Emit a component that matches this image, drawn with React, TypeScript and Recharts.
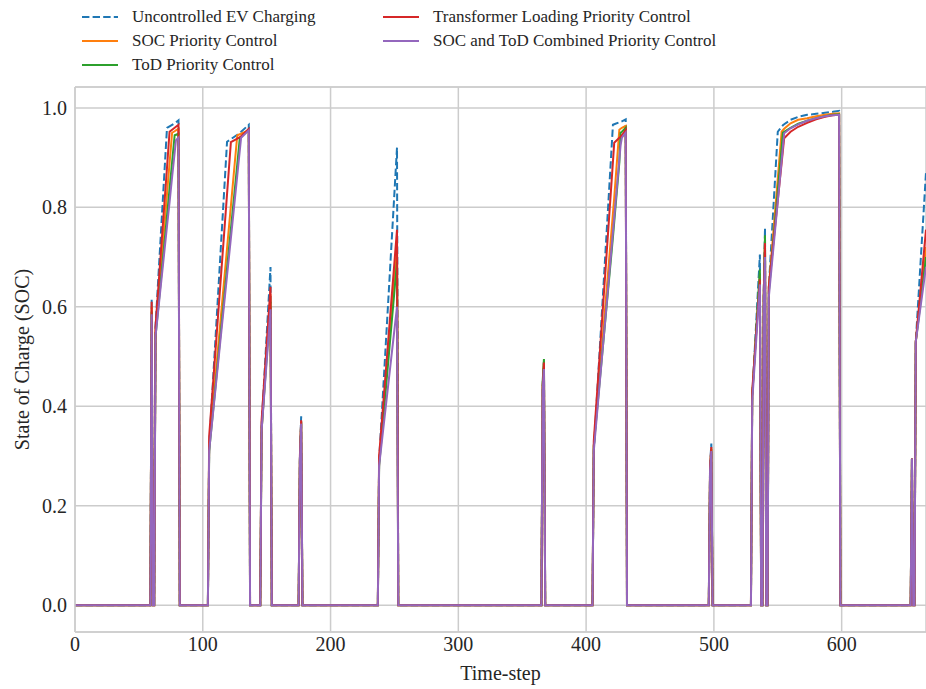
import React from "react";
import { LineChart, Line, XAxis, YAxis, CartesianGrid, ReferenceLine, Label } from "recharts";

const timeSteps = [
  0, 59, 60, 61, 62, 63, 72, 74, 76, 78, 79, 81, 82,
  104, 105, 119, 122, 127, 129, 130, 136, 137,
  145, 146, 153, 154,
  175, 176, 177, 178,
  237, 238, 252, 253,
  365, 366, 367, 368,
  405, 406, 421, 422, 426, 427, 428, 431, 432,
  496, 497, 498, 499,
  529, 530, 536, 537, 538, 539, 540, 541,
  542, 543, 550, 553, 554, 555, 560, 566, 573, 580, 587, 593, 598, 599,
  654, 655, 656, 657, 658, 666,
];

const uncontrolled = [
  0, 0, 0.615, 0, 0, 0.56, 0.96, 0.963, 0.966, 0.969, 0.971, 0.975, 0,
  0, 0.32, 0.932, 0.937, 0.946, 0.95, 0.952, 0.966, 0,
  0, 0.36, 0.68, 0,
  0, 0.3, 0.38, 0,
  0, 0.29, 0.92, 0,
  0, 0.44, 0.49, 0,
  0, 0.31, 0.966, 0.967, 0.971, 0.972, 0.973, 0.977, 0,
  0, 0.28, 0.325, 0,
  0, 0.42, 0.705, 0, 0, 0.63, 0.758, 0,
  0, 0.64, 0.952, 0.962, 0.965, 0.967, 0.976, 0.982, 0.986, 0.988, 0.99, 0.992, 0.994, 0,
  0, 0.297, 0, 0, 0.53, 0.87,
];

const socPriority = [
  0, 0, 0.6, 0, 0, 0.55, 0.827, 0.889, 0.95, 0.953, 0.955, 0.958, 0,
  0, 0.32, 0.718, 0.803, 0.945, 0.947, 0.948, 0.955, 0,
  0, 0.35, 0.625, 0,
  0, 0.29, 0.37, 0,
  0, 0.29, 0.72, 0,
  0, 0.44, 0.49, 0,
  0, 0.32, 0.788, 0.819, 0.956, 0.958, 0.96, 0.964, 0,
  0, 0.27, 0.315, 0,
  0, 0.42, 0.665, 0, 0, 0.62, 0.735, 0,
  0, 0.64, 0.858, 0.952, 0.955, 0.958, 0.969, 0.976, 0.979, 0.983, 0.986, 0.988, 0.989, 0,
  0, 0.295, 0, 0, 0.53, 0.72,
];

const todPriority = [
  0, 0, 0.59, 0, 0, 0.54, 0.783, 0.837, 0.891, 0.945, 0.946, 0.948, 0,
  0, 0.31, 0.678, 0.756, 0.887, 0.94, 0.942, 0.956, 0,
  0, 0.35, 0.61, 0,
  0, 0.29, 0.368, 0,
  0, 0.28, 0.69, 0,
  0, 0.45, 0.495, 0,
  0, 0.32, 0.74, 0.77, 0.89, 0.95, 0.952, 0.96, 0,
  0, 0.27, 0.315, 0,
  0, 0.42, 0.675, 0, 0, 0.62, 0.744, 0,
  0, 0.63, 0.833, 0.92, 0.95, 0.952, 0.96, 0.968, 0.974, 0.979, 0.983, 0.986, 0.987, 0,
  0, 0.295, 0, 0, 0.53, 0.7,
];

const transformerPriority = [
  0, 0, 0.61, 0, 0, 0.56, 0.88, 0.952, 0.956, 0.96, 0.962, 0.966, 0,
  0, 0.34, 0.827, 0.931, 0.938, 0.941, 0.943, 0.958, 0,
  0, 0.37, 0.64, 0,
  0, 0.3, 0.372, 0,
  0, 0.3, 0.755, 0,
  0, 0.44, 0.488, 0,
  0, 0.33, 0.892, 0.93, 0.94, 0.942, 0.945, 0.956, 0,
  0, 0.28, 0.318, 0,
  0, 0.43, 0.655, 0, 0, 0.62, 0.728, 0,
  0, 0.64, 0.814, 0.889, 0.914, 0.939, 0.952, 0.962, 0.97, 0.977, 0.982, 0.985, 0.986, 0,
  0, 0.295, 0, 0, 0.53, 0.755,
];

const combinedPriority = [
  0, 0, 0.585, 0, 0, 0.54, 0.762, 0.81, 0.861, 0.91, 0.935, 0.94, 0,
  0, 0.31, 0.663, 0.738, 0.864, 0.915, 0.94, 0.955, 0,
  0, 0.35, 0.595, 0,
  0, 0.29, 0.365, 0,
  0, 0.28, 0.6, 0,
  0, 0.43, 0.475, 0,
  0, 0.31, 0.75, 0.779, 0.896, 0.925, 0.94, 0.95, 0,
  0, 0.27, 0.31, 0,
  0, 0.41, 0.645, 0, 0, 0.6, 0.7, 0,
  0, 0.62, 0.812, 0.894, 0.922, 0.949, 0.959, 0.967, 0.974, 0.979, 0.983, 0.985, 0.986, 0,
  0, 0.295, 0, 0, 0.53, 0.68,
];

const xTicks = [0, 100, 200, 300, 400, 500, 600];
const yTicks = [0, 0.2, 0.4, 0.6, 0.8, 1.0];
const X_DOMAIN: [number, number] = [0, 666];
const Y_DOMAIN: [number, number] = [-0.054, 1.042];

const series = [
  { key: "uncontrolled", name: "Uncontrolled EV Charging", color: "#1f77b4", dash: "7.4 3.2", values: uncontrolled },
  { key: "soc", name: "SOC Priority Control", color: "#ff7f0e", dash: undefined, values: socPriority },
  { key: "tod", name: "ToD Priority Control", color: "#2ca02c", dash: undefined, values: todPriority },
  { key: "transformer", name: "Transformer Loading Priority Control", color: "#d62728", dash: undefined, values: transformerPriority },
  { key: "combined", name: "SOC and ToD Combined Priority Control", color: "#9467bd", dash: undefined, values: combinedPriority },
];

const data = timeSteps.map((t, i) => {
  const row: Record<string, number> = { t };
  series.forEach((s) => {
    row[s.key] = s.values[i];
  });
  return row;
});

const FONT = "'Liberation Serif', 'Times New Roman', serif";
const GRID = "#cccccc";

const legendSlots = [
  { left: 82, top: 17 },
  { left: 82, top: 41 },
  { left: 82, top: 65 },
  { left: 383, top: 17 },
  { left: 383, top: 41 },
];

function LegendBox() {
  return (
    <div style={{ position: "absolute", left: 0, top: 0, width: 926, height: 80, fontFamily: FONT }}>
      {series.map((s, i) => (
        <div
          key={s.key}
          style={{
            position: "absolute",
            left: legendSlots[i].left,
            top: legendSlots[i].top - 12,
            height: 24,
            display: "flex",
            alignItems: "center",
            whiteSpace: "nowrap",
          }}
        >
          <svg width={36} height={24} style={{ display: "block" }}>
            <line x1={0} y1={12} x2={36} y2={12} stroke={s.color} strokeWidth={2} strokeDasharray={s.dash} />
          </svg>
          <span style={{ marginLeft: 14, fontSize: 17, color: "#262626", lineHeight: "24px" }}>{s.name}</span>
        </div>
      ))}
    </div>
  );
}

export default function App() {
  return (
    <div style={{ position: "absolute", left: 0, top: 0, width: 926, height: 689, background: "#ffffff" }}>
      <LineChart
        width={926}
        height={689}
        data={data}
        margin={{ top: 87, right: 0, bottom: 0, left: 0 }}
        style={{ fontFamily: FONT }}
      >
        <CartesianGrid stroke={GRID} strokeWidth={1.5} />
        <XAxis
          dataKey="t"
          type="number"
          domain={X_DOMAIN}
          ticks={xTicks}
          allowDataOverflow
          height={57}
          tickLine={false}
          tickSize={0}
          tickMargin={5}
          axisLine={{ stroke: GRID, strokeWidth: 1.5 }}
          tick={{ fill: "#262626", fontSize: 20, fontFamily: FONT }}
        >
          <Label value="Time-step" position="insideBottom" offset={9} style={{ fill: "#262626", fontSize: 20, fontFamily: FONT }} />
        </XAxis>
        <YAxis
          type="number"
          domain={Y_DOMAIN}
          ticks={yTicks}
          allowDataOverflow
          width={75}
          tickLine={false}
          tickSize={0}
          tickMargin={8}
          axisLine={{ stroke: GRID, strokeWidth: 1.5 }}
          tickFormatter={(v: number) => v.toFixed(1)}
          tick={{ fill: "#262626", fontSize: 20, fontFamily: FONT }}
        >
          <Label
            value="State of Charge (SOC)"
            angle={-90}
            position="insideLeft"
            offset={22}
            style={{ fill: "#262626", fontSize: 20, fontFamily: FONT, textAnchor: "middle" }}
          />
        </YAxis>
        <ReferenceLine y={Y_DOMAIN[1]} stroke={GRID} strokeWidth={1.5} />
        {series.map((s) => (
          <Line
            key={s.key}
            type="linear"
            dataKey={s.key}
            name={s.name}
            stroke={s.color}
            strokeWidth={2}
            strokeDasharray={s.dash}
            dot={false}
            activeDot={false}
            isAnimationActive={false}
          />
        ))}
      </LineChart>
      <LegendBox />
    </div>
  );
}
